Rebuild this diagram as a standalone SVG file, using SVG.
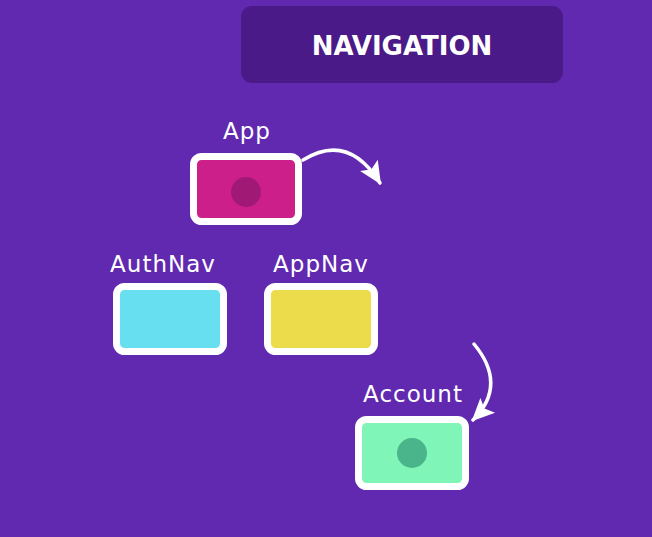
<svg xmlns="http://www.w3.org/2000/svg" width="652" height="537" viewBox="0 0 652 537">
<style>
.bg{fill:#6029b0}
.node{stroke:#fff;stroke-width:7}
.lbl{font-family:"DejaVu Sans","Liberation Sans",sans-serif;font-size:23px;fill:#fff;text-anchor:middle;letter-spacing:1px}
.conn{fill:none;stroke:#fff;stroke-width:3.5;stroke-linecap:round}
</style>
<defs>
<marker id="ah" viewBox="0 0 12 12" refX="11" refY="6" markerWidth="6.5" markerHeight="6.5" orient="auto" markerUnits="strokeWidth">
<path d="M0,0.5 L12,6 L0,11.5 L2.5,6 Z" fill="#fff"/>
</marker>
</defs>
<rect class="bg" x="0" y="0" width="652" height="537"/>
<g id="banner">
<rect x="241" y="6" width="322" height="77" rx="11" fill="#4a1a88"/>
<text x="402" y="55" font-family="'DejaVu Sans','Liberation Sans',sans-serif" font-size="26" font-weight="700" fill="#fff" text-anchor="middle">NAVIGATION</text>
</g>
<g id="connectors">
<path class="conn" d="M303,160 Q348,132 380,183" marker-end="url(#ah)"/>
<path class="conn" d="M474,344 Q508,385 473,420" marker-end="url(#ah)"/>
</g>
<g id="app">
<text class="lbl" x="247" y="139">App</text>
<rect class="node" x="193.5" y="156.5" width="105" height="65" rx="8" fill="#cc1f8a"/>
<circle cx="246" cy="192" r="15" fill="#a01a75"/>
</g>
<g id="authnav">
<text class="lbl" x="163" y="272">AuthNav</text>
<rect class="node" x="116.5" y="286.5" width="107" height="65" rx="8" fill="#68dff0"/>
</g>
<g id="appnav">
<text class="lbl" x="321" y="272">AppNav</text>
<rect class="node" x="267.5" y="286.5" width="107" height="65" rx="8" fill="#ecdb4b"/>
</g>
<g id="account">
<text class="lbl" x="413" y="402">Account</text>
<rect class="node" x="358.5" y="419.5" width="107" height="67" rx="8" fill="#7ff5b8"/>
<circle cx="412" cy="453" r="15" fill="#4ab58a"/>
</g>
</svg>
